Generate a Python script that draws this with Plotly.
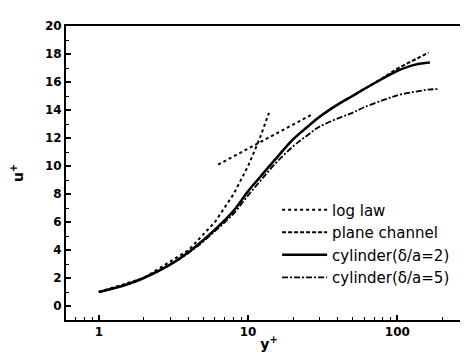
import plotly.graph_objects as go

# log law segments
lin_y = [1.0, 2.0, 4.0, 6.0, 8.0, 10.0, 12.0, 13.8]
lin_u = [1.0, 2.0, 4.0, 6.0, 8.0, 10.0, 12.0, 13.8]
log_y = [6.3, 8.0, 10.0, 14.0, 18.0, 22.0, 27.0]
log_u = [10.1, 10.7, 11.25, 12.1, 12.7, 13.2, 13.7]

# plane channel
pc_y = [1, 1.5, 2, 3, 4, 5, 6, 7, 8, 10, 12, 15, 20, 25, 30, 40, 50, 60, 80, 100, 120, 140, 162]
pc_u = [1.0, 1.5, 2.0, 2.95, 3.85, 4.7, 5.45, 6.15, 6.8, 8.2, 9.2, 10.4, 11.9, 12.8, 13.5, 14.4,
        15.0, 15.5, 16.3, 16.95, 17.4, 17.75, 18.1]

# cylinder delta/a = 2
c2_y = [1, 1.5, 2, 3, 4, 5, 6, 7, 8, 10, 12, 15, 20, 25, 30, 40, 50, 60, 80, 100, 120, 140, 165]
c2_u = [1.0, 1.5, 2.0, 2.95, 3.85, 4.7, 5.45, 6.15, 6.8, 8.2, 9.2, 10.4, 11.9, 12.8, 13.5, 14.4,
        15.0, 15.5, 16.25, 16.8, 17.12, 17.3, 17.4]

# cylinder delta/a = 5
c5_y = [1, 1.5, 2, 3, 4, 5, 6, 7, 8, 10, 12, 15, 20, 25, 30, 40, 50, 60, 80, 100, 130, 160, 190]
c5_u = [1.0, 1.5, 2.0, 2.95, 3.8, 4.6, 5.35, 6.0, 6.6, 7.9, 8.9, 10.1, 11.4, 12.2, 12.8, 13.4,
        13.8, 14.2, 14.7, 15.05, 15.3, 15.45, 15.5]

x_major = [1, 10, 100]
x_minor = [v * d for d in (0.1, 1, 10, 100) for v in range(2, 10) if 0.6 <= v * d <= 316]
y_major = list(range(0, 21, 2))
y_minor = list(range(-1, 20, 2))

fig = go.Figure()
lw = 2
fig.add_trace(go.Scatter(x=lin_y, y=lin_u, mode="lines", name="log law",
                         line=dict(color="black", width=lw, dash="dot")))
fig.add_trace(go.Scatter(x=log_y, y=log_u, mode="lines", showlegend=False,
                         line=dict(color="black", width=lw, dash="dot")))
fig.add_trace(go.Scatter(x=pc_y, y=pc_u, mode="lines", name="plane channel",
                         line=dict(color="black", width=lw, dash="4px,2px", shape="spline")))
fig.add_trace(go.Scatter(x=c2_y, y=c2_u, mode="lines", name="cylinder(δ/a=2)",
                         line=dict(color="black", width=2.5, shape="spline")))
fig.add_trace(go.Scatter(x=c5_y, y=c5_u, mode="lines", name="cylinder(δ/a=5)",
                         line=dict(color="black", width=1.8, dash="6px,2px,2px,2px", shape="spline")))

tfont = dict(family="DejaVu Sans", size=12, weight="bold", color="black")
fig.update_layout(
    width=468, height=353,
    margin=dict(l=58, r=2, t=18, b=41),
    paper_bgcolor="white", plot_bgcolor="white",
    font=dict(family="DejaVu Sans", size=12, color="black"),
    legend=dict(x=0.52, y=0.43, xanchor="left", yanchor="top",
                bgcolor="rgba(0,0,0,0)", font=dict(family="DejaVu Sans", size=15, color="black"),
                tracegroupgap=0, itemwidth=45),
    xaxis=dict(type="log", range=[-0.22, 2.5], showgrid=False, zeroline=False,
               showline=True, linecolor="black", linewidth=2, mirror=True,
               ticks="inside", ticklen=5, tickwidth=1.5, tickcolor="black",
               tickmode="array", tickvals=x_major, ticktext=[str(v) for v in x_major],
               tickfont=tfont,
               minor=dict(ticks="inside", ticklen=3, tickwidth=1.2, tickcolor="black",
                          tickmode="array", tickvals=x_minor, showgrid=False),
               title=dict(text="y<sup>+</sup>", standoff=1,
                          font=dict(family="DejaVu Sans", size=14, weight="bold", color="black"))),
    yaxis=dict(range=[-1, 20], showgrid=False, zeroline=False,
               showline=True, linecolor="black", linewidth=2, mirror=True,
               ticks="inside", ticklen=5, tickwidth=1.5, tickcolor="black",
               tickmode="array", tickvals=y_major, ticktext=[str(v) for v in y_major],
               tickfont=tfont,
               minor=dict(ticks="inside", ticklen=3, tickwidth=1.2, tickcolor="black",
                          tickmode="array", tickvals=y_minor, showgrid=False),
               title=dict(text="u<sup>+</sup>", standoff=19,
                          font=dict(family="DejaVu Sans", size=14, weight="bold", color="black"))),
)

fig.write_html("out.html")
